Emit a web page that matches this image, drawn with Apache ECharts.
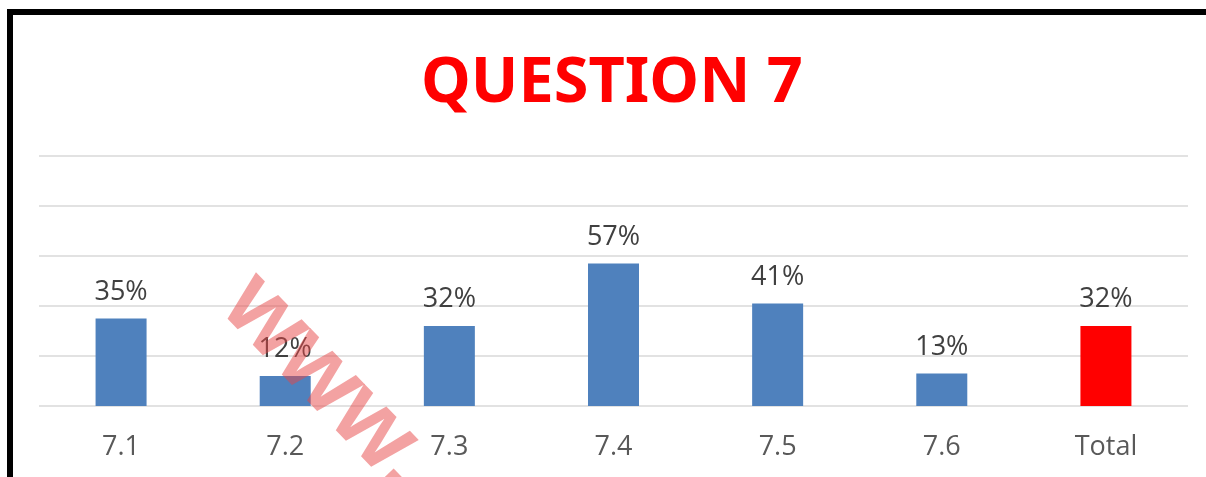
<!DOCTYPE html>
<html>
<head>
<meta charset="utf-8">
<script src="https://cdn.jsdelivr.net/npm/echarts@6/dist/echarts.min.js"></script>
<style>
  html, body { margin: 0; padding: 0; background: #fff; }
  #chart { width: 1206px; height: 477px; }
</style>
</head>
<body>
<div id="chart"></div>
<script>
// question 7 results
var categories = ["7.1", "7.2", "7.3", "7.4", "7.5", "7.6", "Total"];
var values = [35, 12, 32, 57, 41, 13, 32];
var yTicks = [0, 20, 40, 60, 80, 100];

var myChart = echarts.init(document.getElementById("chart"));

var barData = values.map(function (v, i) {
  return {
    value: v,
    itemStyle: { color: categories[i] === "Total" ? "#FF0000" : "#4F81BD" }
  };
});

var option = {
  animation: false,
  title: {
    text: "QUESTION 7",
    left: 416,
    top: 48,
    textStyle: {
      color: "#FF0000",
      fontFamily: "Noto Sans",
      fontWeight: "bold",
      fontSize: 63
    }
  },
  grid: {
    left: 39,
    right: 18,
    top: 156,
    bottom: 71
  },
  xAxis: {
    type: "category",
    data: categories,
    axisLine: { show: false },
    axisTick: { show: false },
    axisLabel: {
      color: "#595959",
      fontFamily: "Open Sans",
      fontSize: 27,
      margin: 28
    }
  },
  yAxis: {
    type: "value",
    min: yTicks[0],
    max: yTicks[yTicks.length - 1],
    interval: 20,
    axisLine: { show: false },
    axisTick: { show: false },
    axisLabel: { show: false },
    splitLine: {
      show: true,
      lineStyle: { color: "#D9D9D9", width: 1.5 }
    }
  },
  series: [
    {
      type: "bar",
      barWidth: 51,
      data: barData,
      label: {
        show: true,
        position: "top",
        distance: 13,
        color: "#404040",
        fontFamily: "Open Sans",
        fontSize: 27,
        formatter: "{c}%"
      }
    }
  ],
  graphic: [
    {
      type: "rect",
      shape: { x: 10, y: 12, width: 1300, height: 600 },
      style: { fill: "none", stroke: "#000", lineWidth: 6 },
      z: 100
    },
    {
      // watermark
      type: "text",
      x: 238,
      y: 290,
      rotation: -0.8,
      style: {
        text: "www.",
        fill: "rgba(232, 70, 70, 0.5)",
        fontFamily: "Liberation Sans",
        fontWeight: "bold",
        fontSize: 100,
        verticalAlign: "middle"
      },
      z: 100
    }
  ]
};

myChart.setOption(option);
</script>
</body>
</html>
